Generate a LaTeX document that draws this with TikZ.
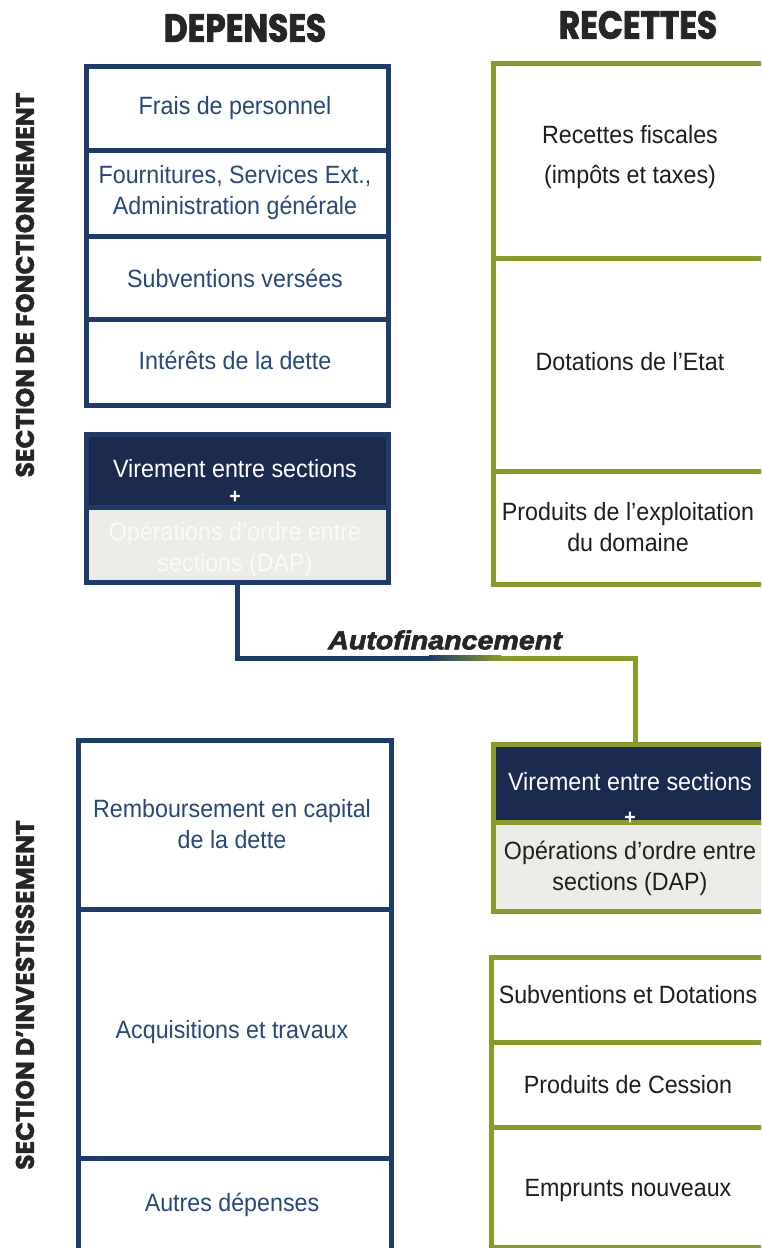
\documentclass[tikz,border=0pt]{standalone}
\usepackage{fontspec}
\setmainfont{Liberation Sans}[FakeStretch=0.93]
\newfontfamily\headfont{Poppins}[FakeStretch=0.84,FakeBold=2]
\newfontfamily\sidefont{Poppins}[FakeStretch=0.98,FakeBold=1.5]
\newfontfamily\autofont{Liberation Sans}[FakeStretch=1.1,FakeBold=2.5]
\definecolor{navy}{HTML}{1F3C68}
\definecolor{navyfill}{HTML}{1B2B50}
\definecolor{bluetxt}{HTML}{2A4877}
\definecolor{olive}{HTML}{8A9A2B}
\definecolor{lightgr}{HTML}{EBEBE7}
\definecolor{fainttxt}{HTML}{F9F9F7}
\definecolor{darktxt}{HTML}{1E1E1E}
\definecolor{headtxt}{HTML}{262626}
\tikzset{
  cellL/.style={draw=navy, line width=5pt, fill=white, inner sep=0pt, anchor=north west},
  cellR/.style={draw=olive, line width=5pt, fill=white, inner sep=0pt, anchor=north west},
  txt/.style={font=\fontsize{25}{31}\selectfont, align=center, inner sep=0pt},
  ltxt/.style={txt, text=bluetxt},
  rtxt/.style={txt, text=darktxt},
  wtxt/.style={txt, text=white},
  plus/.style={font=\bfseries\fontsize{21}{24}\selectfont, text=white, inner sep=0pt},
  head/.style={font=\headfont\bfseries\fontsize{39}{42}\selectfont, text=headtxt, inner sep=0pt},
  side/.style={font=\sidefont\bfseries\fontsize{25.5}{28}\selectfont, text=headtxt, inner sep=0pt, rotate=90},
  link/.style={line width=5pt}
}
\begin{document}
\begin{tikzpicture}[x=1pt,y=-1pt]
\useasboundingbox (0,0) rectangle (761,1248);
\fill[white] (0,0) rectangle (761,1248);
\clip (0,0) rectangle (761,1248);

% headings
\node[head] (hdep) at (245,28) {DEPENSES};
\node[head] (hrec) at (638,25) {RECETTES};
\node[side] (sfon) at (25,285) {SECTION DE FONCTIONNEMENT};
\node[side] (sinv) at (25,995) {SECTION D’INVESTISSEMENT};

% ---- Fonctionnement : dépenses
\node[cellL, minimum width=302pt, minimum height=84pt] (fp) at (84,64) {};
\node[cellL, minimum width=302pt, minimum height=86pt] (fo) at (84,148) {};
\node[cellL, minimum width=302pt, minimum height=83pt] (sv) at (84,234) {};
\node[cellL, minimum width=302pt, minimum height=86pt] (id) at (84,317) {};
\node[ltxt] (tfp) at (235,108) {Frais de personnel};
\node[ltxt] (tfo) at (235,193) {Fournitures, Services Ext.,\\Administration générale};
\node[ltxt] (tsv) at (235,278) {Subventions versées};
\node[ltxt] (tid) at (235,360) {Intérêts de la dette};

% virement (left)
\node[cellL, fill=navyfill, minimum width=302pt, minimum height=73pt] (lvt) at (84,432) {};
\node[cellL, fill=lightgr, minimum width=302pt, minimum height=75pt] (lvb) at (84,505) {};
\node[wtxt] (tlv) at (235,469) {Virement entre sections};
\node[plus] (tlp) at (235,497) {+};
\node[txt, text=fainttxt] (tlo) at (235,549) {Opérations d’ordre entre\\sections (DAP)};

% ---- Fonctionnement : recettes
\node[cellR, minimum width=283pt, minimum height=195pt] (rf) at (491,61) {};
\node[cellR, minimum width=283pt, minimum height=213pt] (de) at (491,256) {};
\node[cellR, minimum width=283pt, minimum height=113pt] (pe) at (491,469) {};
\node[rtxt] (trf) at (630,157) {Recettes fiscales\\[9pt](impôts et taxes)};
\node[rtxt] (tde) at (630,362) {Dotations de l’Etat};
\node[rtxt] (tpe) at (628,527) {Produits de l’exploitation\\du domaine};

% ---- virement (right)
\node[cellR, fill=navyfill, minimum width=283pt, minimum height=78pt] (rvt) at (491,742) {};
\node[cellR, fill=lightgr, minimum width=283pt, minimum height=89pt] (rvb) at (491,820) {};
\node[wtxt] (trv) at (630,782) {Virement entre sections};
\node[plus] (trp) at (630,818) {+};
\node[rtxt] (tro) at (630,868) {Opérations d’ordre entre\\sections (DAP)};

% ---- Autofinancement link
\coordinate (a1) at (430,658);
\coordinate (a2) at (500,658);
\draw[link, navy] (lvb.south) |- (a1);
\shade[left color=navy, right color=olive] (429,655.5) rectangle (501,660.5);
\draw[link, olive] (a2) -| (rvt.north);
\node[font=\autofont\bfseries\itshape\fontsize{26}{28}\selectfont, text=headtxt, inner sep=0pt] (auto) at (445,640) {Autofinancement};

% ---- Investissement : dépenses
\node[cellL, minimum width=313pt, minimum height=169pt] (rc) at (76,738) {};
\node[cellL, minimum width=313pt, minimum height=249pt] (at) at (76,907) {};
\node[cellL, minimum width=313pt, minimum height=96pt] (ad) at (76,1156) {};
\node[ltxt] (trc) at (232,824) {Remboursement en capital\\de la dette};
\node[ltxt] (tat) at (232,1032) {Acquisitions et travaux};
\node[ltxt] (tad) at (232,1205) {Autres dépenses};

% ---- Investissement : recettes
\node[cellR, minimum width=285pt, minimum height=85pt] (sd) at (489,955) {};
\node[cellR, minimum width=285pt, minimum height=85pt] (pc) at (489,1040) {};
\node[cellR, minimum width=285pt, minimum height=120pt] (en) at (489,1125) {};
\node[rtxt] (tsd) at (628,995) {Subventions et Dotations};
\node[rtxt] (tpc) at (628,1085) {Produits de Cession};
\node[rtxt] (ten) at (628,1190) {Emprunts nouveaux};
\end{tikzpicture}
\end{document}
